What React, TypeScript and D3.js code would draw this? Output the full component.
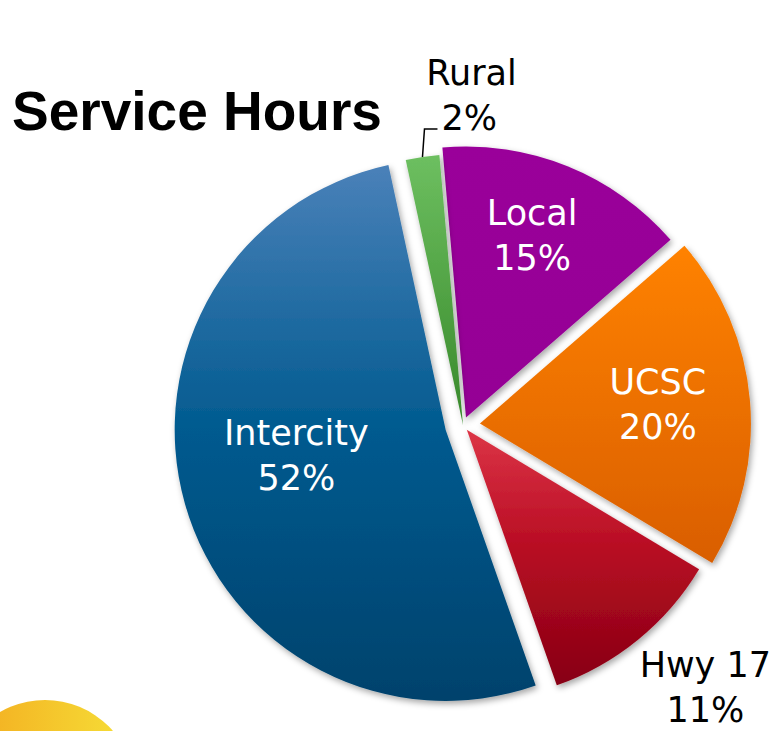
import React, { useEffect, useRef } from "react";
import * as d3 from "d3";

const categories = ["Local", "UCSC", "Hwy 17", "Intercity", "Rural"];
const shares = [15, 20, 11, 52, 2];
const percentLabels = ["15%", "20%", "11%", "52%", "2%"];

// top / bottom colours of each slice gradient
const gradientStops: Record<string, string[]> = {
  Local: ["#9a009a", "#950095"],
  UCSC: ["#ff8200", "#d95e00"],
  "Hwy 17": ["#dc3546", "#870012"],
  Intercity: ["#4a81b9", "#00426c"],
  Rural: ["#6dbf60", "#37882a"],
};
const explode: Record<string, number> = { Local: 8, UCSC: 17, "Hwy 17": 6, Intercity: 18, Rural: 0 };
// label radius and angle nudge (degrees)
const labelPlace: Record<string, [number, number]> = {
  Local: [183, -0.8],
  UCSC: [178, 2.6],
  "Hwy 17": [360, -2.3],
  Intercity: [154, 1.7],
};

export default function App() {
  const ref = useRef<SVGSVGElement>(null);

  useEffect(() => {
    const width = 776;
    const height = 731;
    const cx = 463;
    const cy = 425;
    const radius = 271;

    const svg = d3.select(ref.current).attr("width", width).attr("height", height);
    svg.selectAll("*").remove();

    const defs = svg.append("defs");
    const shadow = defs.append("filter").attr("id", "shadow")
      .attr("x", "-20%").attr("y", "-20%").attr("width", "140%").attr("height", "140%");
    shadow.append("feDropShadow")
      .attr("dx", 2).attr("dy", 3).attr("stdDeviation", 3)
      .attr("flood-color", "#000").attr("flood-opacity", 0.35);

    categories.forEach((c, i) => {
      const g = defs.append("linearGradient").attr("id", "grad" + i)
        .attr("x1", 0).attr("y1", 0).attr("x2", 0).attr("y2", 1);
      g.append("stop").attr("offset", "0%").attr("stop-color", gradientStops[c][0]);
      if (c === "Intercity") g.append("stop").attr("offset", "50%").attr("stop-color", "#005a8f");
      if (c === "Hwy 17") g.append("stop").attr("offset", "45%").attr("stop-color", "#b90d24");
      g.append("stop").attr("offset", "100%").attr("stop-color", gradientStops[c][1]);
    });

    const sun = defs.append("linearGradient").attr("id", "sun")
      .attr("x1", 0).attr("y1", 0).attr("x2", 1).attr("y2", 0);
    sun.append("stop").attr("offset", "0%").attr("stop-color", "#f3a81e");
    sun.append("stop").attr("offset", "100%").attr("stop-color", "#f6e038");

    // decorative circle bottom-left
    svg.append("circle").attr("cx", 45).attr("cy", 790).attr("r", 90).attr("fill", "url(#sun)");

    const data = categories.map((c, i) => ({ name: c, value: shares[i], pct: percentLabels[i], idx: i }));
    const toRad = Math.PI / 180;
    const pie = d3.pie<any>().sort(null).value(d => d.value)
      .startAngle(-5 * toRad).endAngle(355 * toRad);
    const arcs = pie(data);
    const arc = d3.arc<any>().innerRadius(0).outerRadius(radius);

    const apex = (a: any) => {
      const mid = (a.startAngle + a.endAngle) / 2;
      const d = explode[a.data.name];
      return [cx + d * Math.sin(mid), cy - d * Math.cos(mid)];
    };

    const slices = svg.append("g");
    slices.selectAll("path").data(arcs).enter()
      .append("path")
      .attr("transform", d => { const p = apex(d); return `translate(${p[0]}, ${p[1]})`; })
      .attr("d", arc)
      .attr("fill", d => `url(#grad${d.data.idx})`)
      .attr("filter", "url(#shadow)");

    const font = "'DejaVu Sans', Verdana, sans-serif";

    arcs.forEach(a => {
      const place = labelPlace[a.data.name];
      if (!place) return;
      const p = apex(a);
      const ang = (a.startAngle + a.endAngle) / 2 + place[1] * toRad;
      const x = p[0] + place[0] * Math.sin(ang);
      const y = p[1] - place[0] * Math.cos(ang);
      const inside = a.data.name !== "Hwy 17";
      const t = svg.append("text")
        .attr("text-anchor", "middle")
        .style("font-family", font)
        .style("font-size", "35px")
        .attr("fill", inside ? "#fff" : "#000");
      t.append("tspan").attr("x", x).attr("y", y - 22).text(a.data.name);
      t.append("tspan").attr("x", x).attr("y", y + 23).text(a.data.pct);
    });

    // Rural label with leader line
    const rural = arcs.find(a => a.data.name === "Rural")!;
    const rp = apex(rural);
    const rMid = (rural.startAngle + rural.endAngle) / 2;
    const ox = rp[0] + radius * Math.sin(rMid);
    const oy = rp[1] - radius * Math.cos(rMid);
    svg.append("path")
      .attr("d", d3.line()([[ox, oy], [ox + 2, oy - 28], [ox + 15, oy - 28]]))
      .attr("fill", "none").attr("stroke", "#000").attr("stroke-width", 1.5);
    svg.append("text")
      .attr("x", ox + 49).attr("y", oy - 72)
      .attr("text-anchor", "middle")
      .style("font-family", font).style("font-size", "35px")
      .text(rural.data.name);
    svg.append("text")
      .attr("x", ox + 19).attr("y", oy - 27)
      .style("font-family", font).style("font-size", "35px")
      .text(rural.data.pct);

    // title
    svg.append("text")
      .attr("x", 12).attr("y", 130)
      .style("font-family", "'Liberation Sans', Arial, sans-serif")
      .style("font-size", "55px")
      .style("font-weight", "bold")
      .text("Service Hours");
  }, []);

  return (
    <div style={{ position: "absolute", left: 0, top: 0 }}>
      <svg ref={ref} style={{ display: "block" }}></svg>
    </div>
  );
}
